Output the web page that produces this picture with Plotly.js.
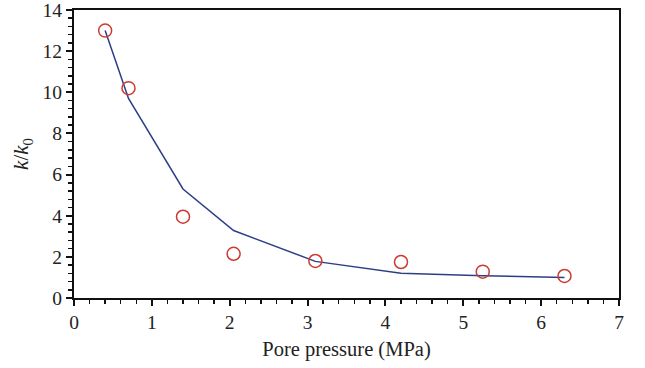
<!DOCTYPE html>
<html><head><meta charset="utf-8">
<script src="https://cdn.plot.ly/plotly-3.0.1.min.js"></script>
<style>html,body{margin:0;padding:0;background:#fff;}#chart{width:645px;height:368px;}</style>
</head><body><div id="chart"></div>
<script>
const measuredX = [0.4, 0.7, 1.4, 2.05, 3.1, 4.2, 5.25, 6.3];
const measuredY = [13.0, 10.2, 3.95, 2.15, 1.8, 1.75, 1.28, 1.07];
const modelX = [0.4, 0.7, 1.4, 2.05, 3.1, 4.2, 5.25, 6.3];
const modelY = [13.0, 9.7, 5.3, 3.28, 1.78, 1.2, 1.08, 1.0];
const xTitle = "Pore pressure (MPa)";
const yTitle = "<i>k</i>/<i>k</i><sub>0</sub>";

const font = {family: "Liberation Serif, DejaVu Serif, serif", color: "#222", size: 19.5};
const traces = [
  {x: modelX, y: modelY, type: "scatter", mode: "lines",
   line: {color: "#2b3f86", width: 1.5}, showlegend: false, hoverinfo: "skip"},
  {x: measuredX, y: measuredY, type: "scatter", mode: "markers",
   marker: {symbol: "circle-open", size: 13, color: "#cc3a33", line: {width: 1.5, color: "#cc3a33"}},
   showlegend: false}
];
const axisCommon = {
  showline: true, linecolor: "#111", linewidth: 2, mirror: true,
  ticks: "outside", ticklen: 6, tickwidth: 2, tickcolor: "#111",
  showgrid: false, zeroline: false, tickfont: font, ticklabeloverflow: "allow"
};
const layout = {
  width: 645, height: 368,
  margin: {l: 74, r: 26, t: 10, b: 70},
  paper_bgcolor: "#fff", plot_bgcolor: "#fff",
  font: font,
  xaxis: Object.assign({}, axisCommon, {
    range: [0, 7], dtick: 1, tick0: 0,
    minor: {dtick: 0.2, ticks: "outside", ticklen: 4, tickwidth: 1.5, tickcolor: "#111"},
    title: {text: xTitle, font: Object.assign({}, font, {size: 20.5}), standoff: 9}
  }),
  yaxis: Object.assign({}, axisCommon, {
    range: [0, 14], dtick: 2, tick0: 0,
    minor: {dtick: 0.4, ticks: "outside", ticklen: 4, tickwidth: 1.5, tickcolor: "#111"},
    title: {text: yTitle, font: Object.assign({}, font, {size: 21}), standoff: 8}
  })
};
Plotly.newPlot("chart", traces, layout, {displayModeBar: false, staticPlot: true});
</script></body></html>
